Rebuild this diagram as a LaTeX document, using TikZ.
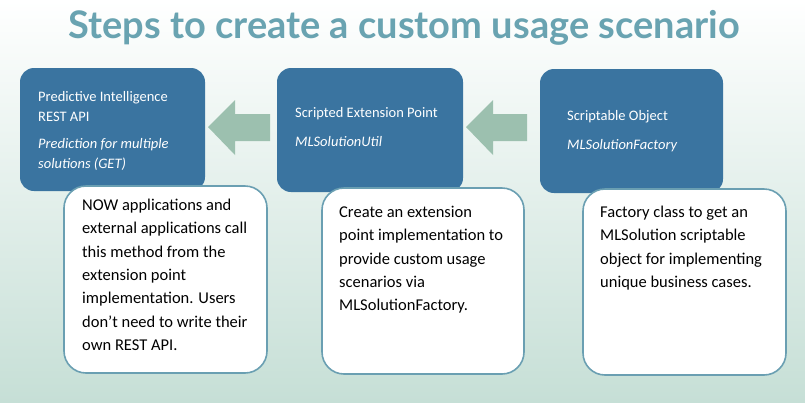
\documentclass[tikz,border=0pt]{standalone}
\usepackage{fontspec}
\setmainfont{Carlito}
\newfontfamily\titlefont{Lato}
\usetikzlibrary{positioning}
\definecolor{stepblue}{HTML}{3A74A0}
\definecolor{edgeteal}{HTML}{6A9FB2}
\definecolor{titleteal}{HTML}{69A3B1}
\definecolor{arrowgreen}{HTML}{9CC0AF}
\definecolor{bgbottom}{HTML}{C6DFD6}
\tikzset{
  stepbox/.style={fill=stepblue,rounded corners=14pt},
  notebox/.style={fill=white,draw=edgeteal,line width=1.6pt,rounded corners=22pt},
  steptext/.style={anchor=west,align=left,text=white,font=\fontsize{14.5}{20.5}\selectfont,inner sep=0pt},
  notetext/.style={anchor=north west,align=left,font=\fontsize{16.5}{23.3}\selectfont,inner sep=0pt},
  backarrow/.style={fill=arrowgreen}
}
\begin{document}
\begin{tikzpicture}[x=1pt,y=-1pt]
  \useasboundingbox (0,0) rectangle (805,402);
  \shade[top color=white,bottom color=bgbottom] (0,0) rectangle (805,402);
  \node[text=titleteal,font=\titlefont\bfseries\fontsize{38}{40}\selectfont] (title) at (404,28) {Steps to create a custom usage scenario};
  % blue step boxes
  \fill[stepbox] (20,68) rectangle (205,191);
  \fill[stepbox] (277,68) rectangle (463,192);
  \fill[stepbox] (540,69) rectangle (723,193);
  % arrows between the steps
  \fill[backarrow] (208,127)--(235,100)--(235,114)--(270,114)--(270,141)--(235,141)--(235,155)--cycle;
  \fill[backarrow] (466,127)--(493,100)--(493,114)--(527,114)--(527,141)--(493,141)--(493,155)--cycle;
  % white note boxes
  \draw[notebox] (64,186) rectangle (267,373);
  \draw[notebox] (322,188) rectangle (524,374);
  \draw[notebox] (583,189) rectangle (786,375);
  \node[steptext] (rest) at (38,131) {Predictive Intelligence\\REST API\\[6pt]\itshape Prediction for multiple\\\itshape solutions (GET)};
  \node[steptext] (ext) at (295,127) {Scripted Extension Point\\[8pt]\itshape MLSolutionUtil};
  \node[steptext] (obj) at (567,131) {Scriptable Object\\[8pt]\itshape MLSolutionFactory};
  \node[notetext] (restnote) at (82,199) {NOW applications and\\external applications call\\this method from the\\extension point\\implementation. Users\\don't need to write their\\own REST API.};
  \node[notetext] (extnote) at (339,206) {Create an extension\\point implementation to\\provide custom usage\\scenarios via\\MLSolutionFactory.};
  \node[notetext] (objnote) at (600,206) {Factory class to get an\\MLSolution scriptable\\object for implementing\\unique business cases.};
\end{tikzpicture}
\end{document}
